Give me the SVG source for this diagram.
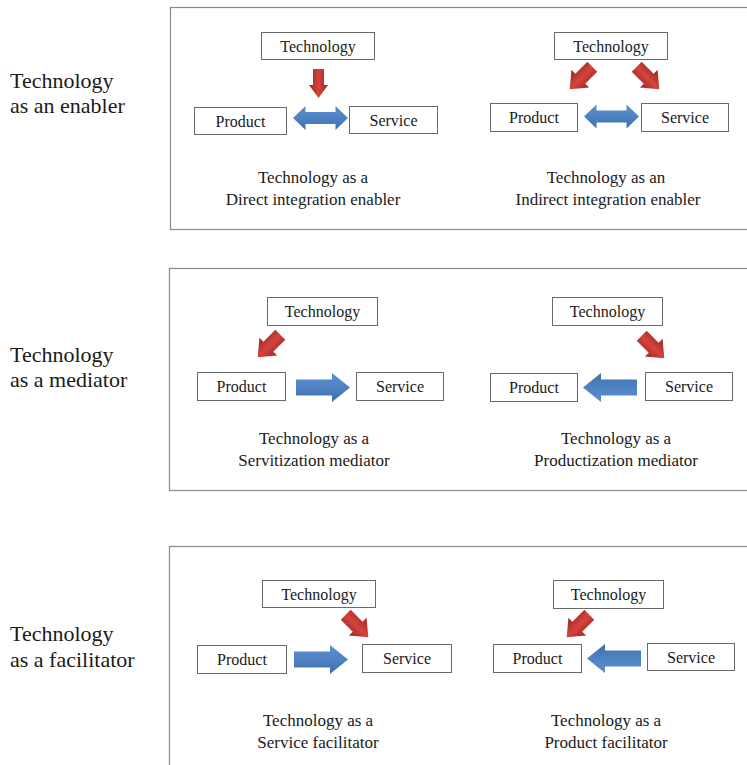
<svg xmlns="http://www.w3.org/2000/svg" width="747" height="765" viewBox="0 0 747 765">
  <defs>
    <style>
      .frame { fill: none; stroke: #8a8a8a; stroke-width: 1.2; }
      .box { fill: #ffffff; stroke: #6a6a6a; stroke-width: 1; }
      .node-text { font-family: "Liberation Serif", "Times New Roman", serif; font-size: 16px; fill: #1a1a1a; text-anchor: middle; }
      .caption { font-family: "Liberation Serif", "Times New Roman", serif; font-size: 17px; fill: #1a1a1a; text-anchor: middle; }
      .side { font-family: "Liberation Serif", "Times New Roman", serif; font-size: 22px; fill: #1a1a1a; }
      .red { fill: url(#redFill); }
      .blue { fill: url(#blueFill); }
    </style>
    <linearGradient id="redFill" x1="0" y1="0" x2="1" y2="0">
      <stop offset="0" stop-color="#9c2622"/>
      <stop offset="0.5" stop-color="#d4443d"/>
      <stop offset="1" stop-color="#9c2622"/>
    </linearGradient>
    <linearGradient id="blueFill" x1="0" y1="0" x2="0" y2="1">
      <stop offset="0" stop-color="#5b8fd0"/>
      <stop offset="0.5" stop-color="#4f82c2"/>
      <stop offset="1" stop-color="#3f70ad"/>
    </linearGradient>
    <!-- block arrow pointing down, centred on origin -->
    <path id="redArrow" class="red" d="M-5.5,-14.5 L5.5,-14.5 L5.5,1.5 L9.5,1.5 L0,14.5 L-9.5,1.5 L-5.5,1.5 Z"/>
    <path id="redArrowDiag" class="red" d="M-7,-16 L7,-16 L7,1 L12.5,1 L0,16 L-12.5,1 L-7,1 Z"/>
    <!-- block arrow pointing right, centred on origin -->
    <path id="blueRight" class="blue" d="M-27,-8 L9,-8 L9,-14.5 L27,0 L9,14.5 L9,8 L-27,8 Z"/>
    <!-- double-headed arrow -->
    <path id="blueDouble" class="blue" d="M-27.5,0 L-15,-12 L-15,-6 L15,-6 L15,-12 L27.5,0 L15,12 L15,6 L-15,6 L-15,12 Z"/>
  </defs>

  <!-- panel frames -->
  <g id="frames">
    <rect class="frame" x="170.5" y="7.5" width="620" height="222"/>
    <rect class="frame" x="169.5" y="268.5" width="620" height="222"/>
    <rect class="frame" x="169.5" y="546.5" width="620" height="260"/>
  </g>

  <!-- row labels -->
  <g id="row-labels">
    <text class="side" x="10" y="88">Technology</text>
    <text class="side" x="10" y="113">as an enabler</text>
    <text class="side" x="10" y="362">Technology</text>
    <text class="side" x="10" y="387">as a mediator</text>
    <text class="side" x="10" y="641">Technology</text>
    <text class="side" x="10" y="667">as a facilitator</text>
  </g>

  <!-- connectors -->
  <g id="connectors">
    <use href="#redArrow" transform="translate(318.5,83.5)"/>
    <use href="#blueDouble" transform="translate(320.5,118)"/>
    <use href="#redArrowDiag" transform="translate(581,78) rotate(45)"/>
    <use href="#redArrowDiag" transform="translate(648,78) rotate(-45)"/>
    <use href="#blueDouble" transform="translate(611.5,116.5)"/>

    <use href="#redArrowDiag" transform="translate(269,346) rotate(45)"/>
    <use href="#blueRight" transform="translate(323,387.5)"/>
    <use href="#redArrowDiag" transform="translate(653,347) rotate(-45)"/>
    <use href="#blueRight" transform="translate(610,387.5) rotate(180)"/>

    <use href="#redArrowDiag" transform="translate(357,626) rotate(-45)"/>
    <use href="#blueRight" transform="translate(321,659.5)"/>
    <use href="#redArrowDiag" transform="translate(578,626) rotate(45)"/>
    <use href="#blueRight" transform="translate(614,658.5) rotate(180)"/>
  </g>

  <!-- enabler: direct -->
  <g id="p1l-technology"><rect class="box" x="261.5" y="32.5" width="113" height="27"/><text class="node-text" x="318" y="51.5">Technology</text></g>
  <g id="p1l-product"><rect class="box" x="194.5" y="107.5" width="92" height="27"/><text class="node-text" x="240.5" y="126.5">Product</text></g>
  <g id="p1l-service"><rect class="box" x="349.5" y="106.5" width="88" height="27"/><text class="node-text" x="393.5" y="125.5">Service</text></g>
  <g id="p1l-caption">
    <text class="caption" x="313" y="183">Technology as a</text>
    <text class="caption" x="313" y="205">Direct integration enabler</text>
  </g>

  <!-- enabler: indirect -->
  <g id="p1r-technology"><rect class="box" x="554.5" y="32.5" width="113" height="27"/><text class="node-text" x="611" y="51.5">Technology</text></g>
  <g id="p1r-product"><rect class="box" x="490.5" y="103.5" width="87" height="28"/><text class="node-text" x="534" y="123">Product</text></g>
  <g id="p1r-service"><rect class="box" x="641.5" y="103.5" width="87" height="28"/><text class="node-text" x="685" y="123">Service</text></g>
  <g id="p1r-caption">
    <text class="caption" x="606" y="183">Technology as an</text>
    <text class="caption" x="608" y="205">Indirect integration enabler</text>
  </g>

  <!-- mediator: servitization -->
  <g id="p2l-technology"><rect class="box" x="267.5" y="297.5" width="110" height="28"/><text class="node-text" x="322.5" y="317">Technology</text></g>
  <g id="p2l-product"><rect class="box" x="197.5" y="372.5" width="88" height="28"/><text class="node-text" x="241.5" y="392">Product</text></g>
  <g id="p2l-service"><rect class="box" x="356.5" y="372.5" width="87" height="28"/><text class="node-text" x="400" y="392">Service</text></g>
  <g id="p2l-caption">
    <text class="caption" x="314" y="444">Technology as a</text>
    <text class="caption" x="314" y="466">Servitization mediator</text>
  </g>

  <!-- mediator: productization -->
  <g id="p2r-technology"><rect class="box" x="552.5" y="297.5" width="110" height="28"/><text class="node-text" x="607.5" y="317">Technology</text></g>
  <g id="p2r-product"><rect class="box" x="490.5" y="373.5" width="87" height="28"/><text class="node-text" x="534" y="393">Product</text></g>
  <g id="p2r-service"><rect class="box" x="645.5" y="372.5" width="87" height="28"/><text class="node-text" x="689" y="392">Service</text></g>
  <g id="p2r-caption">
    <text class="caption" x="616" y="444">Technology as a</text>
    <text class="caption" x="616" y="466">Productization mediator</text>
  </g>

  <!-- facilitator: service -->
  <g id="p3l-technology"><rect class="box" x="262.5" y="580.5" width="113" height="27"/><text class="node-text" x="319" y="599.5">Technology</text></g>
  <g id="p3l-product"><rect class="box" x="197.5" y="645.5" width="89" height="28"/><text class="node-text" x="242" y="665">Product</text></g>
  <g id="p3l-service"><rect class="box" x="362.5" y="644.5" width="89" height="28"/><text class="node-text" x="407" y="664">Service</text></g>
  <g id="p3l-caption">
    <text class="caption" x="318" y="726">Technology as a</text>
    <text class="caption" x="318" y="748">Service facilitator</text>
  </g>

  <!-- facilitator: product -->
  <g id="p3r-technology"><rect class="box" x="553.5" y="580.5" width="110" height="28"/><text class="node-text" x="608.5" y="600">Technology</text></g>
  <g id="p3r-product"><rect class="box" x="493.5" y="644.5" width="88" height="28"/><text class="node-text" x="537.5" y="664">Product</text></g>
  <g id="p3r-service"><rect class="box" x="647.5" y="643.5" width="87" height="27"/><text class="node-text" x="691" y="662.5">Service</text></g>
  <g id="p3r-caption">
    <text class="caption" x="606" y="726">Technology as a</text>
    <text class="caption" x="606" y="748">Product facilitator</text>
  </g>
</svg>
